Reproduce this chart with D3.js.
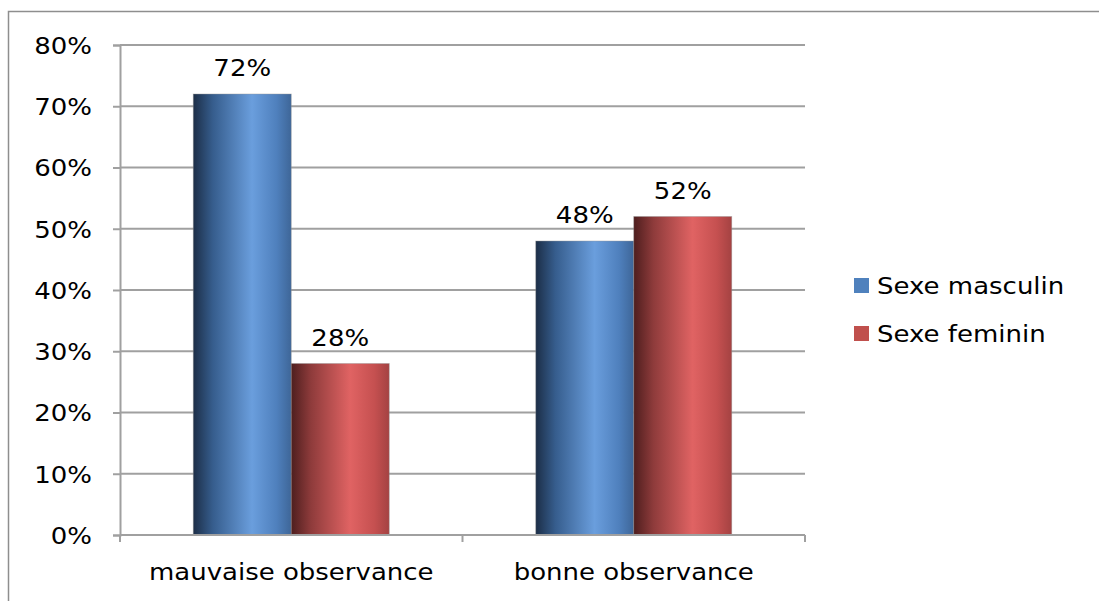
<!DOCTYPE html>
<html><head><meta charset="utf-8">
<script src="https://cdn.jsdelivr.net/npm/d3@7"></script>
<style>body{margin:0;background:#fff;overflow:hidden}svg{display:block}text{font-family:"DejaVu Sans",Verdana,sans-serif;fill:#000}</style>
</head><body><svg id="c" width="1099" height="601"></svg>
<script>
const categories = ["mauvaise observance", "bonne observance"];
const seriesNames = ["Sexe masculin", "Sexe feminin"];
const masculin = [72, 48];
const feminin = [28, 52];
const yTicks = [0, 10, 20, 30, 40, 50, 60, 70, 80];

(function () {
const svg = d3.select("#c");
const FS = 23, SX = 1.13;
const mLeft = 120, mRight = 805, mTop = 45, mBottom = 535;

// outer border (left and top edges visible; right/bottom fall outside the picture)
svg.append("path").attr("d", "M8.5,601 L8.5,11.5 L1099,11.5")
  .attr("fill", "none").attr("stroke", "#8e8e8e").attr("stroke-width", 1.5);

const x0 = d3.scaleBand().domain(categories).range([mLeft, mRight]);
const x1 = d3.scaleBand().domain(seriesNames).range([0, 196]);
const y = d3.scaleLinear().domain([0, 80]).range([mBottom, mTop]);

const defs = svg.append("defs");
function grad(id, stops) {
  const g = defs.append("linearGradient").attr("id", id).attr("x1", 0).attr("x2", 1).attr("y1", 0).attr("y2", 0);
  stops.forEach(s => g.append("stop").attr("offset", s[0]).attr("stop-color", s[1]));
}
grad("gB", [[0, "#1c2e47"], [0.2, "#365d8d"], [0.6, "#6a9edd"], [0.85, "#4f80bd"], [1, "#3e6698"]]);
grad("gR", [[0, "#4e1e1e"], [0.2, "#8e3b3b"], [0.6, "#e06363"], [0.85, "#c55050"], [1, "#a44242"]]);
const colors = {"Sexe masculin": "url(#gB)", "Sexe feminin": "url(#gR)"};
const legendColors = {"Sexe masculin": "#4f81bd", "Sexe feminin": "#c0504d"};

// gridlines
svg.append("g").selectAll("line").data(yTicks.filter(d => d > 0)).join("line")
  .attr("x1", mLeft).attr("x2", mRight).attr("y1", d => y(d)).attr("y2", d => y(d))
  .attr("stroke", "#a0a0a0").attr("stroke-width", 2);

// y axis
const yAxis = d3.axisLeft(y).tickValues(yTicks).tickSize(7).tickPadding(21).tickFormat(d => d + "%");
const ga = svg.append("g").attr("transform", `translate(${mLeft},0)`).call(yAxis);
ga.select(".domain").attr("stroke", "#a0a0a0").attr("stroke-width", 2);
ga.selectAll(".tick line").attr("stroke", "#a0a0a0").attr("stroke-width", 2);
ga.selectAll(".tick text").attr("font-size", FS).attr("font-family", "DejaVu Sans").attr("fill", "#000")
  .attr("dy", "0.36em")
  .each(function () {
    const t = d3.select(this);
    const xx = +t.attr("x");
    t.attr("transform", `translate(${xx},0) scale(${SX},1) translate(${-xx},0)`);
  });

// data
const data = categories.map((c, i) => ({cat: c, vals: [
  {s: seriesNames[0], v: masculin[i]}, {s: seriesNames[1], v: feminin[i]}]}));

const groups = svg.append("g").selectAll("g").data(data).join("g")
  .attr("transform", d => `translate(${x0(d.cat) + x0.bandwidth() / 2 - 98},0)`);
groups.selectAll("rect").data(d => d.vals).join("rect")
  .attr("x", d => x1(d.s)).attr("y", d => y(d.v))
  .attr("width", x1.bandwidth()).attr("height", d => mBottom - y(d.v))
  .attr("fill", d => colors[d.s]).attr("stroke", "rgba(150,150,150,0.5)").attr("stroke-width", 0.8);
groups.selectAll("text").data(d => d.vals).join("text")
  .attr("text-anchor", "middle").attr("font-size", FS)
  .attr("transform", d => `translate(${x1(d.s) + x1.bandwidth() / 2},${y(d.v) - 18}) scale(${SX},1)`)
  .text(d => d.v + "%");

// x axis
svg.append("line").attr("x1", mLeft).attr("x2", mRight).attr("y1", mBottom).attr("y2", mBottom)
  .attr("stroke", "#a0a0a0").attr("stroke-width", 2);
const xt = [mLeft, x0(categories[1]), mRight];
svg.append("g").selectAll("line").data(xt).join("line")
  .attr("x1", d => d).attr("x2", d => d).attr("y1", mBottom).attr("y2", mBottom + 7)
  .attr("stroke", "#a0a0a0").attr("stroke-width", 2);
svg.append("g").selectAll("text").data(categories).join("text")
  .attr("text-anchor", "middle").attr("font-size", FS)
  .attr("transform", d => `translate(${x0(d) + x0.bandwidth() / 2},580) scale(${SX},1)`)
  .text(d => d);

// legend
const lg = svg.append("g").selectAll("g").data(seriesNames).join("g")
  .attr("transform", (d, i) => `translate(854,${278 + i * 48})`);
lg.append("rect").attr("width", 15).attr("height", 15).attr("fill", d => legendColors[d]);
lg.append("text").attr("font-size", FS)
  .attr("transform", `translate(23,16) scale(${SX},1)`).text(d => d);
})();
</script></body></html>
